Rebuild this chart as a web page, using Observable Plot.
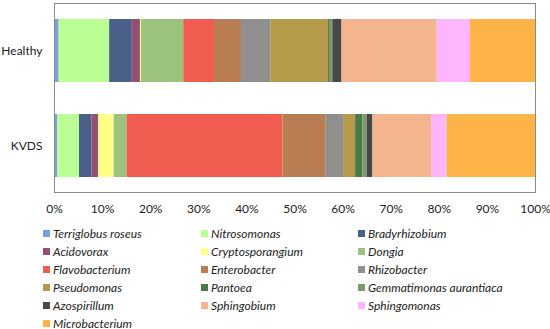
<!DOCTYPE html>
<html>
<head>
<meta charset="utf-8">
<script src="https://cdn.jsdelivr.net/npm/d3@7"></script>
<script src="https://cdn.jsdelivr.net/npm/@observablehq/plot@0.6"></script>
<style>
  body { margin: 0; background: #fff; font-family: Lato, "Open Sans", sans-serif; }
  #chart { width: 550px; }
  .legend { display: grid; grid-template-columns: 158px 157px 180px; margin-left: 43px; padding-top: 4px; }
  .legend .item { height: 18px; display: flex; align-items: center; font-size: 12px; font-style: italic; color: #222; white-space: nowrap; }
  .legend .sw { width: 7px; height: 7px; margin-right: 3px; flex: none; }
</style>
</head>
<body>
<div id="chart"></div>
<script>
const samples = ["Healthy", "KVDS"];
const genera = [
  "Terriglobus roseus", "Nitrosomonas", "Bradyrhizobium", "Acidovorax",
  "Cryptosporangium", "Dongia", "Flavobacterium", "Enterobacter",
  "Rhizobacter", "Pseudomonas", "Pantoea", "Gemmatimonas aurantiaca",
  "Azospirillum", "Sphingobium", "Sphingomonas", "Microbacterium"
];
const healthy = [0.97, 10.5, 4.7, 1.7, 0.2, 8.8, 6.4, 5.6, 6.1, 12.0, 0.2, 0.7, 1.9, 19.8, 6.9, 13.53];
const kvds    = [0.7, 4.5, 2.6, 1.4, 3.2, 2.7, 32.4, 9.0, 3.6, 2.5, 1.5, 0.9, 1.2, 12.2, 3.2, 18.4];
const colors = [
  "#7DA1DE", "#B9FF93", "#4A6089", "#954F72",
  "#FFFF88", "#9BC37E", "#F05C50", "#B97D53",
  "#8F8F8F", "#B59A4B", "#4A7A48", "#7D9B68",
  "#484848", "#F4B58E", "#FDB6FE", "#FDB348"
];
const xTicks = [0, 10, 20, 30, 40, 50, 60, 70, 80, 90, 100];

const table = [];
[healthy, kvds].forEach((vals, si) => {
  vals.forEach((v, gi) => table.push({sample: samples[si], genus: genera[gi], value: v}));
});

const plot = Plot.plot({
  width: 550,
  height: 220,
  marginTop: 3,
  marginBottom: 28,
  marginLeft: 54,
  marginRight: 15,
  style: {fontFamily: "Lato, 'Open Sans', sans-serif", fontSize: "12px", color: "#222", background: "#fff"},
  x: {domain: [0, 100], ticks: xTicks, tickFormat: d => d + "%", tickSize: 0, tickPadding: 12, label: null},
  y: {domain: samples, paddingInner: 0.337, paddingOuter: 0.163, tickSize: 0, tickPadding: 12, label: null},
  color: {domain: genera, range: colors},
  marks: [
    Plot.barX(table, {x: "value", y: "sample", fill: "genus", inset: 0}),
    Plot.frame({stroke: "#8a8a8a"})
  ]
});
document.getElementById("chart").appendChild(plot);

const legend = document.createElement("div");
legend.className = "legend";
genera.forEach((g, i) => {
  const item = document.createElement("div");
  item.className = "item";
  const sw = document.createElement("span");
  sw.className = "sw";
  sw.style.background = colors[i];
  item.appendChild(sw);
  item.appendChild(document.createTextNode(g));
  legend.appendChild(item);
});
document.getElementById("chart").appendChild(legend);
</script>
</body>
</html>
